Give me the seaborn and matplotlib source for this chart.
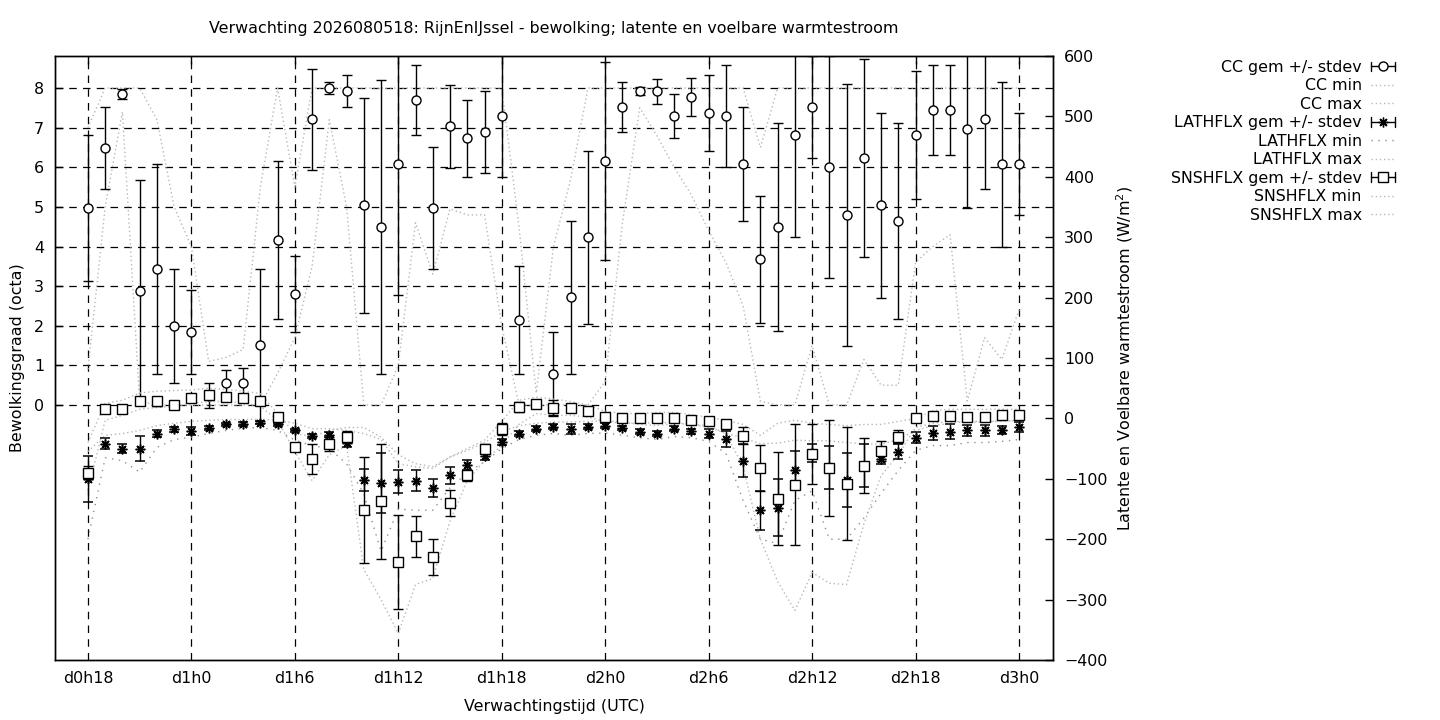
import matplotlib
matplotlib.use('Agg')
import matplotlib.pyplot as plt
import numpy as np
import pandas as pd
import seaborn as sns
from matplotlib.legend_handler import HandlerBase
from matplotlib.lines import Line2D


# ---------------------------
# ensemble verwachting bewolking + warmtestroom (gnuplot look)
# ---------------------------

# uren vanaf d0h18, elk uur een punt
uur = list(range(55))
tick_uur = [0, 6, 12, 18, 24, 30, 36, 42, 48, 54]
tick_labels = ['d0h18', 'd1h0', 'd1h6', 'd1h12', 'd1h18', 'd2h0', 'd2h6', 'd2h12', 'd2h18', 'd3h0']

# bewolking (octa)
cc_gem = [4.97, 6.48, 7.85, 2.87, 3.43, 2.00, 1.84, 0.24, 0.55, 0.55, 1.51, 4.16, 2.80, 7.21, 8.00,
          7.92, 5.04, 4.49, 6.08, 7.69, 4.97, 7.03, 6.73, 6.89, 7.29, 2.14, 0.03, 0.78, 2.72, 4.23,
          6.15, 7.52, 7.92, 7.92, 7.29, 7.77, 7.37, 7.29, 6.08, 3.68, 4.49, 6.81, 7.52, 6.00, 4.79,
          6.23, 5.04, 4.64, 6.81, 7.44, 7.44, 6.96, 7.21, 6.08, 6.08]
cc_sd = [1.85, 1.03, 0.13, 2.80, 2.65, 1.44, 1.05, 0.32, 0.33, 0.38, 1.92, 2.00, 0.96, 1.27, 0.16,
         0.40, 2.72, 3.70, 3.30, 0.88, 1.53, 1.05, 0.97, 1.03, 1.54, 1.36, 0.05, 1.06, 1.93, 2.18,
         2.50, 0.64, 0.10, 0.32, 0.55, 0.48, 0.96, 1.29, 1.44, 1.60, 2.63, 2.58, 1.29, 2.80, 3.30,
         2.49, 2.33, 2.48, 1.61, 1.13, 1.13, 1.98, 1.76, 2.08, 1.29]
cc_min = [0.9, 5.0, 7.4, 0.1, 0.0, 0.0, 0.0, 0.0, 0.0, 0.0, 0.0, 0.8, 1.7, 3.5, 7.2,
          5.0, 0.0, 0.0, 1.0, 4.6, 3.3, 4.95, 4.8, 4.8, 2.0, 0.0, 0.0, 0.0, 0.0, 0.0,
          0.6, 4.6, 7.5, 6.8, 6.0, 5.3, 4.4, 3.6, 2.5, 0.1, 0.0, 0.0, 1.5, 0.0, 0.0,
          1.15, 0.5, 0.5, 3.6, 4.0, 4.3, 0.1, 1.7, 1.15, 2.4]
cc_max = [7.0, 8.0, 8.0, 8.0, 7.2, 5.0, 4.0, 1.1, 1.2, 1.4, 5.5, 8.0, 5.5, 8.0, 8.0,
          8.0, 8.0, 8.0, 8.0, 8.0, 8.0, 8.0, 8.0, 8.0, 8.0, 4.5, 0.3, 4.0, 5.7, 8.0,
          8.0, 8.0, 8.0, 8.0, 8.0, 8.0, 8.0, 8.0, 8.0, 6.5, 8.0, 8.0, 8.0, 8.0, 8.0,
          8.0, 8.0, 8.0, 8.0, 8.0, 8.0, 8.0, 8.0, 8.0, 8.0]

# latente warmtestroom (W/m2)
lat_gem = [-100, -42, -50, -50, -25, -18, -21, -16, -10, -9, -7, -10, -20, -29, -27,
           -41, -102, -107, -105, -103, -115, -94, -77, -62, -39, -25, -17, -14, -17, -14,
           -12, -16, -22, -25, -17, -21, -25, -34, -70, -152, -148, -85, -58, -81, -102,
           -78, -67, -55, -32, -24, -22, -20, -20, -19, -14]
lat_sd = [38, 9, 8, 21, 6, 4, 7, 4, 3, 3, 3, 3, 3, 4, 4,
          7, 18, 50, 19, 18, 15, 14, 8, 7, 5, 4, 4, 4, 8, 4,
          4, 4, 4, 4, 4, 4, 8, 13, 27, 32, 47, 31, 15, 36, 45,
          35, 8, 12, 9, 11, 12, 9, 9, 6, 8]
lat_min = [-200, -65, -70, -89, -48, -35, -31, -25, -20, -16, -15, -20, -36, -45, -50,
           -75, -125, -220, -150, -152, -152, -115, -90, -72, -50, -35, -28, -25, -28, -25,
           -24, -28, -32, -35, -30, -32, -38, -58, -136, -200, -207, -136, -120, -200, -200,
           -165, -124, -86, -53, -45, -45, -40, -40, -38, -35]
lat_max = [-55, -28, -25, -20, -12, -8, -5, -3, -2, -2, -1, -3, -8, -17, -17,
           -20, -25, -35, -75, -80, -83, -64, -53, -40, -22, -12, -8, -6, -6, -5,
           -4, -6, -10, -12, -8, -10, -15, -25, -32, -42, -41, -36, -37, -37, -40,
           -42, -43, -35, -20, -12, -8, -5, -5, -5, -3]

# voelbare warmtestroom (W/m2)
sns_gem = [-90, 16, 15, 29, 28, 23, 34, 39, 36, 34, 29, 3, -47, -67, -42,
           -30, -152, -137, -238, -195, -230, -140, -94, -50, -17, 19, 24, 18, 18, 13,
           3, 0, 0, 1, 1, -2, -4, -10, -29, -82, -133, -110, -59, -82, -108,
           -78, -54, -30, 0, 4, 4, 3, 3, 6, 6]
sns_sd = [11, 3, 3, 5, 8, 3, 3, 3, 3, 3, 3, 3, 3, 25, 12,
          9, 88, 95, 78, 34, 30, 22, 9, 8, 10, 8, 4, 13, 3, 3,
          3, 3, 3, 3, 3, 3, 3, 8, 14, 38, 77, 100, 50, 80, 93,
          45, 17, 10, 3, 3, 3, 3, 3, 3, 3]
sns_min = [-120, -3, 5, 15, 18, 20, 25, 28, 28, 26, 20, -3, -55, -103, -60,
           -45, -250, -300, -356, -275, -265, -170, -103, -70, -45, -10, 8, 5, 5, 2,
           -5, -8, -8, -7, -7, -10, -12, -25, -80, -200, -270, -318, -255, -273, -275,
           -175, -95, -60, -15, -8, -5, -6, -6, -4, -4]
sns_max = [-40, 25, 30, 42, 45, 46, 47, 50, 48, 45, 41, 8, -25, -30, -20,
           -15, -15, -31, -60, -75, -80, -64, -50, -36, -5, 30, 35, 32, 28, 22,
           12, 8, 8, 10, 10, 6, 2, -3, -10, -28, -8, -3, -8, -10, -12,
           -10, -10, -5, 0, 13, 15, 15, 15, 15, 15]

titel = 'Verwachting 2026080518: RijnEnIJssel - bewolking; latente en voelbare warmtestroom'


# legenda-symbool zoals gnuplot: |--o--|
class GemHandler(HandlerBase):
    def create_artists(self, legend, orig_handle, xdescent, ydescent, width, height, fontsize, trans):
        y = height / 2 - ydescent
        x0, x1 = -xdescent, width - xdescent
        c = 3.5
        arts = [Line2D([x0, x1], [y, y], color='black', lw=1),
                Line2D([x0, x0], [y - c, y + c], color='black', lw=1),
                Line2D([x1, x1], [y - c, y + c], color='black', lw=1),
                Line2D([(x0 + x1) / 2], [y], ls='none', marker=orig_handle.get_marker(),
                       ms=orig_handle.get_markersize(), mfc=orig_handle.get_markerfacecolor(),
                       mec='black', mew=1)]
        for a in arts:
            a.set_transform(trans)
        return arts


sns.set_theme(style='white', rc={'axes.edgecolor': 'black', 'text.color': 'black',
                                 'xtick.color': 'black', 'ytick.color': 'black',
                                 'axes.labelcolor': 'black', 'axes.linewidth': 1.0})
plt.rcParams['font.family'] = ['DejaVu Sans']
fs = 11.4

fig = plt.figure(figsize=(14.4, 7.2), dpi=100)
ax = fig.add_axes([55 / 1440, 60 / 720, 998 / 1440, 604 / 720])
ax2 = ax.twinx()

dot = (0, (1, 2))
dot_lat = (0, (1, 4))
grijs = '#b8b8b8'

# bewolking
ax.errorbar(uur, cc_gem, yerr=cc_sd, ls='none', marker='o', ms=6.5, mfc='white', mec='black', mew=1,
            ecolor='black', elinewidth=1, capsize=3.5, capthick=1, zorder=3)
sns.lineplot(x=uur, y=cc_min, ax=ax, color=grijs, linestyle=dot, lw=1, zorder=2)
sns.lineplot(x=uur, y=cc_max, ax=ax, color=grijs, linestyle=dot, lw=1, zorder=2)

# latente warmtestroom
ax2.errorbar(uur, lat_gem, yerr=lat_sd, ls='none', marker=(8, 2, 0), ms=7, mfc='black', mec='black', mew=1.1,
             ecolor='black', elinewidth=1, capsize=3.5, capthick=1, zorder=3)
sns.lineplot(x=uur, y=lat_min, ax=ax2, color='#909090', linestyle=dot_lat, lw=1, zorder=2)
sns.lineplot(x=uur, y=lat_max, ax=ax2, color=grijs, linestyle=dot, lw=1, zorder=2)

# voelbare warmtestroom
ax2.errorbar(uur, sns_gem, yerr=sns_sd, ls='none', marker='s', ms=6.5, mfc='white', mec='black', mew=1,
             ecolor='black', elinewidth=1, capsize=3.5, capthick=1, zorder=4)
sns.lineplot(x=uur, y=sns_min, ax=ax2, color=grijs, linestyle=dot, lw=1, zorder=2)
sns.lineplot(x=uur, y=sns_max, ax=ax2, color=grijs, linestyle=dot, lw=1, zorder=2)

ax.set_xlim(-1.91, 55.97)
ax.set_ylim(-6.435, 8.808)
ax2.set_ylim(-400, 600)

ax.set_xticks(tick_uur)
ax.set_xticklabels(tick_labels)
ax.set_yticks(range(0, 9))
ax2.set_yticks(range(-400, 601, 100))

ax.grid(True, color='black', linestyle=(0, (6, 5)), lw=0.9)
ax.set_axisbelow(True)
ax.tick_params(axis='both', direction='in', length=6, width=1, labelsize=fs, top=True, right=False, pad=8)
ax2.tick_params(axis='y', direction='in', length=6, width=1, labelsize=fs, pad=8)
ax.set_xlabel('')
ax.set_ylabel('')
ax2.set_ylabel('')

fig.text(554 / 1440, 1 - 29 / 720, titel, ha='center', va='center', fontsize=fs)
fig.text(554 / 1440, 1 - 706 / 720, 'Verwachtingstijd (UTC)', ha='center', va='center', fontsize=fs)
fig.text(18 / 1440, 1 - 358 / 720, 'Bewolkingsgraad (octa)', ha='center', va='center', rotation=90, fontsize=fs)
fig.text(1125 / 1440, 1 - 358 / 720, 'Latente en Voelbare warmtestroom (W/m$^2$)', ha='center', va='center',
         rotation=90, fontsize=fs)

# legenda
h_cc = Line2D([], [], marker='o', ms=6.5, mfc='white', mec='black')
h_lat = Line2D([], [], marker=(8, 2, 0), ms=7, mfc='black', mec='black')
h_sns = Line2D([], [], marker='s', ms=6.5, mfc='white', mec='black')
h_dot = Line2D([], [], color=grijs, ls=dot, lw=1)
h_dot_lat = Line2D([], [], color='#909090', ls=dot_lat, lw=1)
handles = [h_cc, h_dot, h_dot, h_lat, h_dot_lat, h_dot, h_sns, h_dot, h_dot]
labels = ['CC gem +/- stdev', 'CC min', 'CC max',
          'LATHFLX gem +/- stdev', 'LATHFLX min', 'LATHFLX max',
          'SNSHFLX gem +/- stdev', 'SNSHFLX min', 'SNSHFLX max']
leg = ax2.legend(handles, labels, loc='upper right', bbox_to_anchor=(1403 / 1440, 1 - 52 / 720),
                 bbox_transform=fig.transFigure, markerfirst=False, frameon=False, fontsize=fs,
                 handlelength=1.5, handletextpad=0.6, labelspacing=0.22, borderpad=0,
                 handler_map={h_cc: GemHandler(), h_lat: GemHandler(), h_sns: GemHandler()})

fig.savefig('out.png', dpi=100)
